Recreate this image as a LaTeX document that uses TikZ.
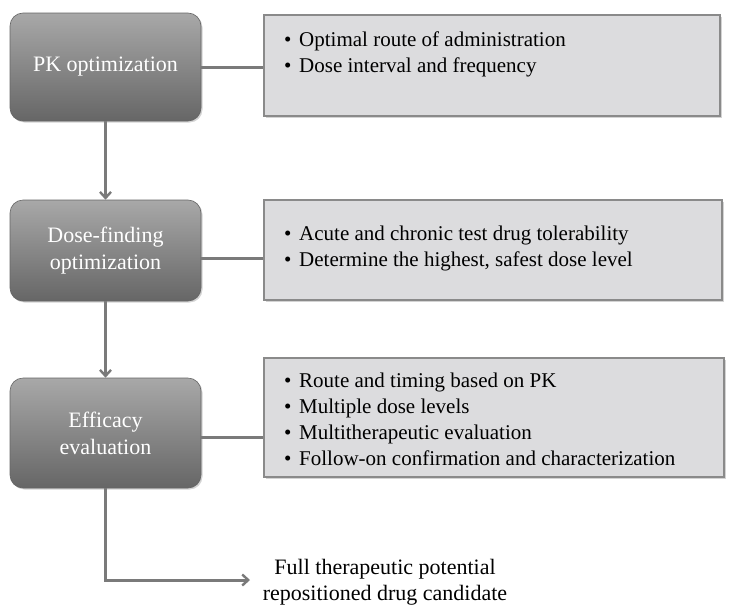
\documentclass[tikz,border=0pt]{standalone}
\usepackage{fontspec}
\setmainfont{Liberation Serif}
\usetikzlibrary{shadows,arrows.meta}
\definecolor{conncol}{HTML}{7A7A7A}
\definecolor{boxfill}{HTML}{DCDCDE}
\definecolor{boxline}{HTML}{8A8A8A}
\newcommand{\itm}[1]{\makebox[15pt][l]{\textbullet}#1}
\begin{document}
\begin{tikzpicture}[x=1pt,y=-1pt,
  stage/.style={rounded corners=13pt, draw=gray!80!black, line width=0.6pt,
    top color=black!34, bottom color=black!60, minimum width=191pt,
    text=white, align=center, font=\fontsize{22}{27}\selectfont,
    drop shadow={shadow xshift=1.5pt, shadow yshift=-1.5pt, opacity=0.35}},
  infobox/.style={draw=boxline, fill=boxfill, line width=1.2pt,
    drop shadow={shadow xshift=2pt, shadow yshift=-2pt, opacity=0.35, fill=gray}},
  itemtext/.style={anchor=west, align=left, inner sep=0pt,
    font=\fontsize{21}{26}\selectfont},
  conn/.style={draw=conncol, line width=3pt},
  arr/.style={conn, -{Straight Barb[length=6pt,width=11pt,line width=2.4pt]}}]
\useasboundingbox (0,0) rectangle (730,605);

% left stages
\node[stage, minimum height=108pt] (p1) at (105.5,67) {PK optimization};
\node[stage, minimum height=101pt] (p2) at (105.5,250.5) {Dose-finding\\optimization};
\node[stage, minimum height=110pt] (p3) at (105.5,433) {Efficacy\\evaluation};

% right boxes
\node[infobox, minimum width=456pt, minimum height=101pt] (r1) at (492,65.5) {};
\node[infobox, minimum width=458pt, minimum height=100pt] (r2) at (493,250) {};
\node[infobox, minimum width=460pt, minimum height=119pt] (r3) at (494,417.5) {};

\node[itemtext] (t1) at (284,54.5) {\itm{Optimal route of administration}\\\itm{Dose interval and frequency}};
\node[itemtext] (t2) at (284,248.5) {\itm{Acute and chronic test drug tolerability}\\\itm{Determine the highest, safest dose level}};
\node[itemtext] (t3) at (284,419) {\itm{Route and timing based on PK}\\\itm{Multiple dose levels}\\\itm{Multitherapeutic evaluation}\\\itm{Follow-on confirmation and characterization}};

% final text
\node[align=center, inner sep=2pt, font=\fontsize{22}{26}\selectfont] (fin) at (385,582)
  {Full therapeutic potential\\repositioned drug candidate};
\coordinate (tip) at (250,580);

% connectors
\draw[conn] (p1.east |- 0,67) -- (r1.west |- 0,67);
\draw[conn] (p2.east |- 0,258) -- (r2.west |- 0,258);
\draw[conn] (p3.east |- 0,437) -- (r3.west |- 0,437);
\draw[arr] (p1.south) -- (p2.north);
\draw[arr] (p2.south) -- (p3.north);
\draw[arr] (p3.south) |- (tip);
\end{tikzpicture}
\end{document}
